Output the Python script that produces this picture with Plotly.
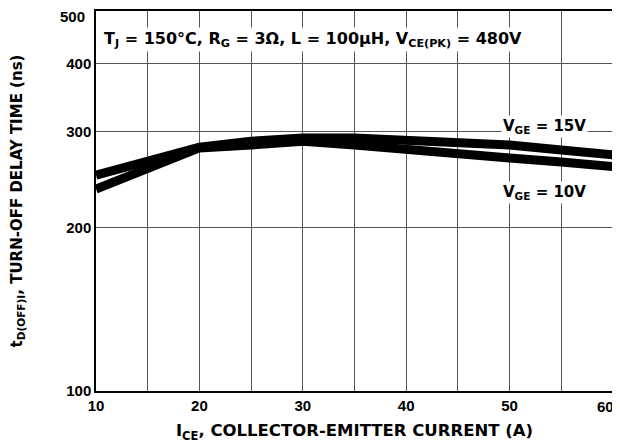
import math
import plotly.graph_objects as go

ice = [10, 15, 20, 25, 30, 35, 40, 45, 50, 55, 60]
td_vge15 = [249.6, 265, 281, 288, 292, 292, 289.5, 286, 283.5, 277.6, 271.8]
td_vge10 = [235.3, 256, 280, 283.5, 288, 283.5, 277.6, 273, 268.3, 263.8, 258.6]

y_ticks = [100, 200, 300, 400, 500]
x_ticks = [10, 20, 30, 40, 50, 60]

TICKFONT = "Arial, Liberation Sans, Helvetica, sans-serif"
FONT = "DejaVu Sans, Arial, sans-serif"
tickfont = dict(size=15, family=TICKFONT, weight=700)

fig = go.Figure()
for ys in (td_vge15, td_vge10):
    fig.add_trace(go.Scatter(x=ice, y=ys, mode="lines",
                             line=dict(color="black", width=9),
                             showlegend=False, hoverinfo="skip"))

# page body has an 8px margin; compensate so the chart fills 620x447
fig.update_layout(
    width=612, height=439,
    margin=dict(l=88, r=7, t=3, b=56, autoexpand=False),
    paper_bgcolor="white", plot_bgcolor="white",
    font=dict(family=FONT, color="black", size=13, weight=700),
)

# edge labels (first/last) are placed as annotations so they stay inside the page
x_text = [str(v) if v != x_ticks[-1] else "" for v in x_ticks]
y_text = [str(v) if v != y_ticks[-1] else "" for v in y_ticks]

fig.update_xaxes(
    range=[10, 60], tickvals=x_ticks, ticktext=x_text,
    showgrid=True, gridcolor="#555555", gridwidth=1,
    minor=dict(dtick=5, tick0=10, showgrid=True, gridcolor="#555555", gridwidth=1),
    showline=True, linecolor="black", linewidth=1.5, mirror=True,
    ticks="", ticklabeloverflow="allow", automargin=False, ticklabelstandoff=0,
    tickfont=tickfont, zeroline=False,
    title=dict(text="I<sub>CE</sub>, COLLECTOR-EMITTER CURRENT (A)",
               font=dict(size=16.5, family=FONT, weight=700), standoff=12),
)
fig.update_yaxes(
    type="log", range=[2, math.log10(500)], tickvals=y_ticks, ticktext=y_text,
    showgrid=True, gridcolor="#555555", gridwidth=1,
    showline=True, linecolor="black", linewidth=1.5, mirror=True,
    ticks="", ticklabeloverflow="allow", automargin=False,
    tickfont=tickfont, zeroline=False,
    title=dict(text="t<sub>D(OFF)I</sub>, TURN-OFF DELAY TIME (ns)",
               font=dict(size=15, family=FONT, weight=700), standoff=41),
)

fig.add_annotation(
    text=str(x_ticks[-1]), xref="x", yref="paper", x=x_ticks[-1], y=0,
    xanchor="right", yanchor="top", xshift=3, yshift=-5, showarrow=False,
    font=tickfont,
)
fig.add_annotation(
    text=str(y_ticks[-1]), xref="paper", yref="y", x=0, y=math.log10(y_ticks[-1]),
    xanchor="right", yanchor="top", xshift=-9, yshift=5, showarrow=False,
    font=tickfont,
)

fig.add_annotation(
    text="T<sub>J</sub> = 150°C, R<sub>G</sub> = 3Ω, L = 100μH, V<sub>CE(PK)</sub> = 480V",
    xref="paper", yref="paper", x=0.012, y=0.926, xanchor="left", yanchor="middle",
    showarrow=False, bgcolor="white", font=dict(size=16, family=FONT, weight=700),
)
fig.add_annotation(
    text="V<sub>GE</sub> = 15V", xref="x", yref="y", x=53.4, y=math.log10(306),
    yanchor="middle", xanchor="center", showarrow=False, bgcolor="white",
    font=dict(size=15, family=FONT, weight=700),
)
fig.add_annotation(
    text="V<sub>GE</sub> = 10V", xref="x", yref="y", x=53.4, y=math.log10(232),
    yanchor="middle", xanchor="center", showarrow=False, bgcolor="white",
    font=dict(size=15, family=FONT, weight=700),
)

fig.write_html("out.html")
